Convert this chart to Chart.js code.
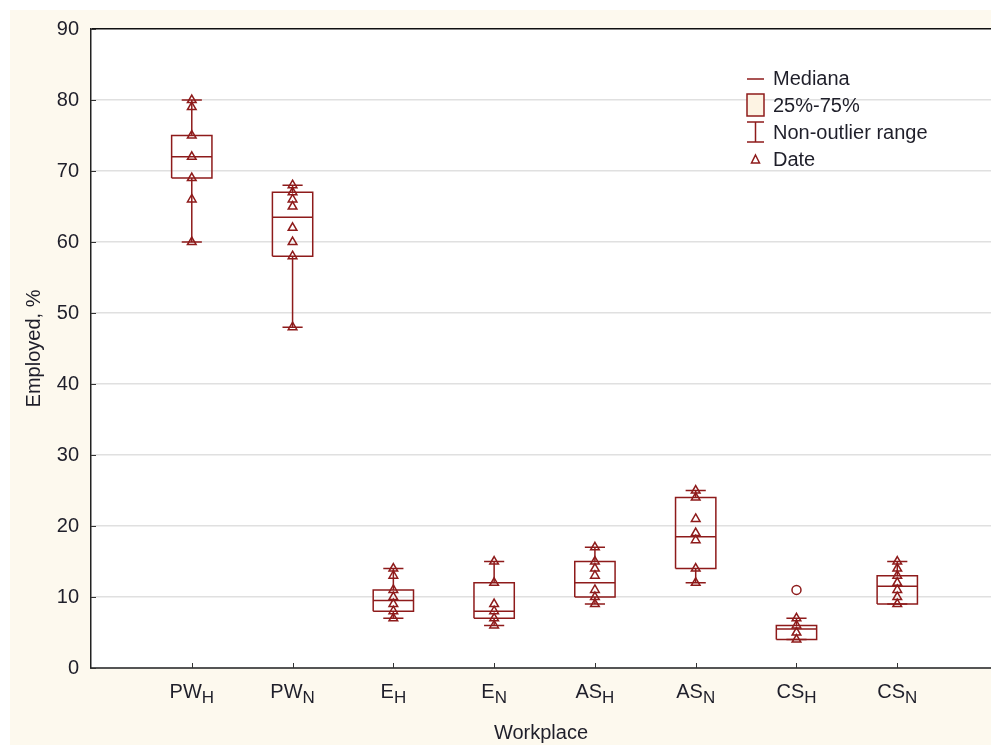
<!DOCTYPE html>
<html>
<head>
<meta charset="utf-8">
<script src="https://cdn.jsdelivr.net/npm/chart.js@4.4.1/dist/chart.umd.min.js"></script>
<style>
    html, body { margin: 0; padding: 0; background: #fff; overflow: hidden; }
    #wrap { width: 991px; height: 745px; position: relative; }
</style>
</head>
<body>
<div id="wrap"><canvas id="box-chart"></canvas></div>
<script>
    // groups on the x axis (name + subscript)
    var groupNames = ['PW', 'PW', 'E', 'E', 'AS', 'AS', 'CS', 'CS'];
    var groupSubs  = ['H', 'N', 'H', 'N', 'H', 'N', 'H', 'N'];

    // box plot statistics
    var rangeMin = [60, 48, 7, 6, 9, 12, 4, 9];
    var q1       = [69, 58, 8, 7, 10, 14, 4, 9];
    var median   = [72, 63.5, 9.5, 8, 12, 18.5, 5.5, 11.5];
    var q3       = [75, 67, 11, 12, 15, 24, 6, 13];
    var rangeMax = [80, 68, 14, 15, 17, 25, 7, 15];

    // the individual observations ("Date") and outliers
    var observations = [
        [80, 79, 75, 72, 69, 66, 60],
        [68, 67, 66, 65, 62, 60, 58, 48],
        [14, 13, 11, 10, 9, 8, 7],
        [15, 12, 9, 8, 7, 6],
        [17, 15, 14, 13, 11, 10, 9],
        [25, 24, 21, 19, 18, 14, 12],
        [7, 6, 5, 4],
        [15, 14, 13, 12, 11, 10, 9]
    ];
    var outliers = [[], [], [], [], [], [], [11], []];

    var yTicks = [0, 10, 20, 30, 40, 50, 60, 70, 80, 90];

    var RED = '#8e1b1b';
    var INK = '#1f1f2a';
    var CREAM = '#fdf9ee';
    var FONT = "'Liberation Sans', Arial, sans-serif";
    var BOX_HALF = 0.2;
    var CAP_HALF = 0.1;

    function gap(x) { return {x: x, y: null}; }

    var boxPts = [], medPts = [], whiskerPts = [], obsPts = [], outPts = [];
    for (var i = 0; i < groupNames.length; i++) {
        var x = i + 1;
        boxPts.push({x: x - BOX_HALF, y: q1[i]}, {x: x + BOX_HALF, y: q1[i]},
                    {x: x + BOX_HALF, y: q3[i]}, {x: x - BOX_HALF, y: q3[i]},
                    {x: x - BOX_HALF, y: q1[i]}, gap(x));
        medPts.push({x: x - BOX_HALF, y: median[i]}, {x: x + BOX_HALF, y: median[i]}, gap(x));
        whiskerPts.push({x: x, y: q3[i]}, {x: x, y: rangeMax[i]}, gap(x),
                        {x: x, y: q1[i]}, {x: x, y: rangeMin[i]}, gap(x),
                        {x: x - CAP_HALF, y: rangeMax[i]}, {x: x + CAP_HALF, y: rangeMax[i]}, gap(x),
                        {x: x - CAP_HALF, y: rangeMin[i]}, {x: x + CAP_HALF, y: rangeMin[i]}, gap(x));
        for (var j = 0; j < observations[i].length; j++) obsPts.push({x: x, y: observations[i][j]});
        for (var k = 0; k < outliers[i].length; k++) outPts.push({x: x, y: outliers[i][k]});
    }

    function lineSet(label, data) {
        return {
            label: label, data: data, showLine: true, spanGaps: false,
            borderColor: RED, borderWidth: 1.5, pointRadius: 0, fill: false
        };
    }

    var decorations = {
        id: 'decorations',
        beforeDraw: function(chart) {
            var c = chart.ctx, a = chart.chartArea;
            c.save();
            c.fillStyle = '#fff';
            c.fillRect(0, 0, chart.width, chart.height);
            c.fillStyle = CREAM;
            c.fillRect(10, 10, chart.width - 10, chart.height - 10);
            c.fillStyle = '#fff';
            c.fillRect(a.left, a.top, a.right - a.left, a.bottom - a.top);
            c.restore();
        },
        afterDraw: function(chart) {
            var c = chart.ctx, a = chart.chartArea;
            var xs = chart.scales.x, ys = chart.scales.y;
            c.save();
            // inward tick marks
            c.strokeStyle = '#333';
            c.lineWidth = 1;
            c.beginPath();
            yTicks.forEach(function(v) {
                var py = Math.round(ys.getPixelForValue(v)) + 0.5;
                c.moveTo(a.left, py); c.lineTo(a.left + 5, py);
            });
            for (var i = 0; i < groupNames.length; i++) {
                var px = Math.round(xs.getPixelForValue(i + 1)) + 0.5;
                c.moveTo(px, a.bottom); c.lineTo(px, a.bottom - 5);
            }
            c.stroke();

            // category labels with subscripts
            c.fillStyle = INK;
            c.textBaseline = 'alphabetic';
            for (var i = 0; i < groupNames.length; i++) {
                var cx = xs.getPixelForValue(i + 1);
                c.font = '20px ' + FONT;
                var w1 = c.measureText(groupNames[i]).width;
                c.font = '17px ' + FONT;
                var w2 = c.measureText(groupSubs[i]).width;
                var left = cx - (w1 + w2) / 2;
                c.font = '20px ' + FONT;
                c.fillText(groupNames[i], left, a.bottom + 30);
                c.font = '17px ' + FONT;
                c.fillText(groupSubs[i], left + w1, a.bottom + 35);
            }

            // legend
            var lx = 747, lw = 17, tx = 773;
            c.strokeStyle = RED;
            c.lineWidth = 1.5;
            c.beginPath(); c.moveTo(lx, 79); c.lineTo(lx + lw, 79); c.stroke();
            c.fillStyle = '#fdf3e3';
            c.fillRect(lx, 94, lw, 22);
            c.strokeRect(lx, 94, lw, 22);
            c.beginPath();
            c.moveTo(lx + lw / 2, 122); c.lineTo(lx + lw / 2, 142);
            c.moveTo(lx, 122); c.lineTo(lx + lw, 122);
            c.moveTo(lx, 142); c.lineTo(lx + lw, 142);
            c.stroke();
            c.beginPath();
            c.moveTo(lx + lw / 2, 155); c.lineTo(lx + lw / 2 + 4, 163); c.lineTo(lx + lw / 2 - 4, 163);
            c.closePath(); c.stroke();

            c.fillStyle = INK;
            c.font = '20px ' + FONT;
            c.textBaseline = 'middle';
            c.fillText('Mediana', tx, 79);
            c.fillText('25%-75%', tx, 106);
            c.fillText('Non-outlier range', tx, 133);
            c.fillText('Date', tx, 160);
            c.restore();
        }
    };

    new Chart(document.getElementById('box-chart'), {
        type: 'scatter',
        data: {
            datasets: [
                {
                    label: 'Date', data: obsPts, pointStyle: 'triangle', pointRadius: 5,
                    backgroundColor: 'rgba(0,0,0,0)', borderColor: RED, borderWidth: 1.5
                },
                {
                    label: 'Outliers', data: outPts, pointStyle: 'circle', pointRadius: 4.5,
                    backgroundColor: 'rgba(0,0,0,0)', borderColor: RED, borderWidth: 1.5
                },
                lineSet('Mediana', medPts),
                lineSet('25%-75%', boxPts),
                lineSet('Non-outlier range', whiskerPts)
            ]
        },
        options: {
            responsive: true,
            maintainAspectRatio: false,
            animation: false,
            layout: { autoPadding: false, padding: { left: 10, top: 29, right: 0, bottom: 0 } },
            plugins: { legend: { display: false }, tooltip: { enabled: false } },
            scales: {
                x: {
                    type: 'linear', min: 0, max: 8.93,
                    grid: { display: false },
                    border: { color: '#555', width: 2 },
                    ticks: { display: false },
                    title: {
                        display: true, text: 'Workplace', color: INK,
                        font: { family: FONT, size: 20 }, padding: { top: 0, bottom: 0 }
                    },
                    afterFit: function(s) { s.height = 77; s.paddingLeft = 0; s.paddingRight = 0; }
                },
                y: {
                    min: 0, max: 90,
                    afterBuildTicks: function(s) { s.ticks = yTicks.map(function(v) { return {value: v}; }); },
                    ticks: { color: INK, font: { family: FONT, size: 20 }, padding: 12 },
                    grid: {
                        drawTicks: false, lineWidth: 1.5,
                        color: function(ctx) { return ctx.tick && ctx.tick.value === 90 ? '#111' : '#e0e0e0'; }
                    },
                    border: { color: '#222', width: 1.5 },
                    title: {
                        display: true, text: 'Employed, %', color: INK,
                        font: { family: FONT, size: 20 }, padding: { top: 12, bottom: 0 }
                    },
                    afterFit: function(s) { s.width = 81; s.paddingTop = 0; s.paddingBottom = 0; }
                }
            }
        },
        plugins: [decorations]
    });
</script>
</body>
</html>
